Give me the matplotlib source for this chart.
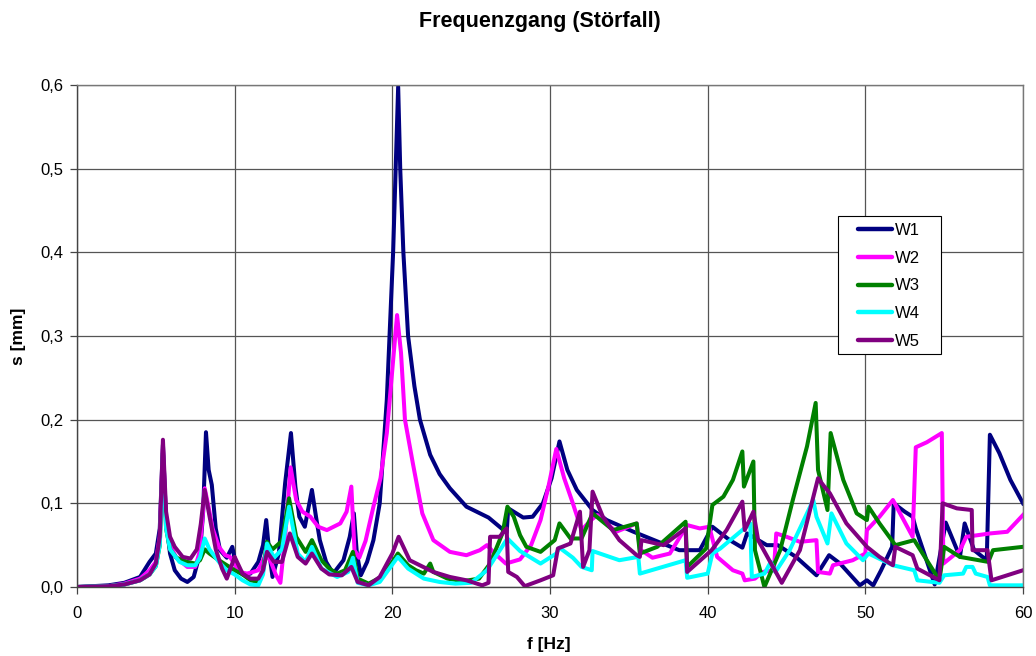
import matplotlib
matplotlib.use("Agg")
import matplotlib.pyplot as plt
from matplotlib.ticker import FuncFormatter, MultipleLocator
from matplotlib.lines import Line2D
from matplotlib.legend_handler import HandlerLine2D
from matplotlib.patches import Rectangle

plt.rcParams['font.family'] = ['Liberation Sans', 'DejaVu Sans']

# frequency [Hz] / displacement [mm]
w1_f = [0, 1, 2, 3, 4, 4.6, 5.0, 5.25, 5.45, 5.65, 5.9, 6.2, 6.6, 7.0, 7.4, 7.8, 8.0, 8.18, 8.35,
        8.55, 8.8, 9.07, 9.5, 9.85, 10.1, 10.5, 11.0, 11.5, 11.8, 12.0, 12.2, 12.4, 12.8, 13.2,
        13.57, 13.85, 14.1, 14.45, 14.9, 15.15, 15.4, 15.8, 16.25, 16.9, 17.3, 17.56, 17.75, 18.0,
        18.4, 18.8, 19.2, 19.65, 20.05, 20.37, 20.5, 20.7, 21.0, 21.4, 21.75, 22.4, 23.0, 23.65,
        24.7, 26.1, 26.8, 27.25, 27.35, 28.3, 28.9, 29.55, 30.1, 30.6, 31.1, 31.7, 32.7, 33.6,
        35.3, 37.0, 38.2, 39.5, 40.3, 41.4, 42.2, 42.5, 43.75, 44.45, 45.6, 46.9, 47.7, 48.4,
        49.65, 50.1, 50.5, 51.0, 51.7, 51.8, 52.5, 53.0, 53.2, 54.4, 55.1, 56.0, 56.3, 56.9,
        57.7, 57.9, 58.5, 59.2, 60]
w1_s = [0, 0.001, 0.002, 0.005, 0.012, 0.03, 0.04, 0.07, 0.17, 0.08, 0.04, 0.02, 0.01, 0.006,
        0.012, 0.04, 0.09, 0.185, 0.14, 0.122, 0.07, 0.044, 0.035, 0.048, 0.024, 0.015, 0.016,
        0.03, 0.05, 0.08, 0.04, 0.012, 0.04, 0.124, 0.184, 0.12, 0.084, 0.072, 0.116, 0.085,
        0.056, 0.03, 0.016, 0.032, 0.06, 0.088, 0.04, 0.014, 0.03, 0.056, 0.1, 0.224, 0.4, 0.598,
        0.5, 0.4, 0.3, 0.24, 0.2, 0.158, 0.135, 0.118, 0.096, 0.083, 0.072, 0.065, 0.094, 0.083,
        0.084, 0.1, 0.13, 0.174, 0.14, 0.116, 0.092, 0.08, 0.066, 0.053, 0.044, 0.044, 0.072,
        0.056, 0.047, 0.064, 0.05, 0.05, 0.036, 0.014, 0.038, 0.028, 0.002, 0.008, 0.002, 0.02,
        0.048, 0.1, 0.09, 0.084, 0.07, 0.003, 0.077, 0.036, 0.076, 0.044, 0.032, 0.182, 0.16,
        0.128, 0.1]

w2_f = [0, 2, 3, 4, 4.6, 5.0, 5.25, 5.45, 5.65, 5.9, 6.3, 7.0, 7.5, 7.75, 7.95, 8.1, 8.35, 8.6,
        9.0, 9.4, 9.7, 10.3, 10.8, 11.5, 12.0, 12.3, 12.6, 12.9, 13.2, 13.55, 13.9, 14.3, 14.8,
        15.3, 15.85, 16.7, 17.1, 17.4, 17.6, 17.9, 18.3, 18.8, 19.25, 19.65, 20.0, 20.3, 20.55,
        20.8, 21.3, 21.9, 22.6, 23.65, 24.7, 25.55, 26.0, 26.5, 27.2, 28.1, 28.8, 29.4, 29.9,
        30.4, 30.9, 31.45, 32.0, 32.6, 33.0, 34.2, 35.5, 35.7, 36.5, 37.6, 38.7, 39.5, 40.1,
        40.6, 41.6, 42.2, 42.35, 43.0, 43.5, 44.2, 44.35, 45.0, 45.85, 46.9, 47.0, 47.75, 47.95,
        49.2, 50.0, 50.1, 50.9, 51.75, 53.0, 53.2, 53.9, 54.85, 54.95, 56.0, 56.4, 57.9, 59.0, 60]
w2_s = [0, 0.001, 0.004, 0.01, 0.02, 0.03, 0.06, 0.165, 0.08, 0.05, 0.035, 0.024, 0.024, 0.04,
        0.08, 0.118, 0.095, 0.07, 0.048, 0.038, 0.036, 0.018, 0.016, 0.02, 0.04, 0.03, 0.015,
        0.005, 0.06, 0.143, 0.104, 0.09, 0.084, 0.072, 0.068, 0.076, 0.09, 0.12, 0.044, 0.035,
        0.055, 0.096, 0.13, 0.184, 0.26, 0.325, 0.28, 0.2, 0.148, 0.088, 0.056, 0.042, 0.038,
        0.044, 0.05, 0.04, 0.028, 0.033, 0.05, 0.08, 0.12, 0.165, 0.13, 0.1, 0.068, 0.08, 0.086,
        0.066, 0.076, 0.045, 0.035, 0.04, 0.074, 0.07, 0.072, 0.036, 0.02, 0.016, 0.008, 0.01,
        0.018, 0.02, 0.064, 0.06, 0.054, 0.056, 0.018, 0.016, 0.026, 0.032, 0.04, 0.068, 0.084,
        0.104, 0.06, 0.167, 0.173, 0.184, 0.028, 0.044, 0.06, 0.064, 0.066, 0.086]

w3_f = [0, 2, 3, 4, 4.6, 5.0, 5.25, 5.45, 5.65, 5.9, 6.3, 7.0, 7.5, 7.8, 8.1, 8.4, 9.0, 9.5,
        10.0, 10.5, 11.0, 11.5, 11.8, 12.05, 12.4, 13.0, 13.45, 13.9, 14.5, 14.9, 15.5, 16.0,
        16.5, 17.0, 17.5, 17.8, 18.5, 19.3, 20.0, 20.35, 21.0, 21.5, 22.0, 22.4, 22.6, 23.5,
        24.5, 25.5, 26.2, 27.0, 27.3, 27.7, 28.1, 28.5, 29.4, 30.3, 30.6, 31.3, 32.0, 32.7,
        34.0, 35.5, 35.7, 36.8, 38.6, 38.7, 39.9, 40.3, 41.0, 41.6, 42.2, 42.3, 42.9, 43.0,
        43.6, 44.6, 45.4, 46.3, 46.85, 47.0, 47.6, 47.8, 48.6, 49.45, 50.1, 50.2, 50.9, 51.75,
        51.9, 53.1, 54.7, 55.0, 56.0, 56.6, 57.8, 58.1, 60]
w3_s = [0, 0.001, 0.003, 0.008, 0.015, 0.025, 0.05, 0.16, 0.07, 0.045, 0.035, 0.03, 0.028,
        0.032, 0.045, 0.04, 0.032, 0.026, 0.02, 0.015, 0.008, 0.006, 0.02, 0.054, 0.045, 0.055,
        0.106, 0.06, 0.042, 0.056, 0.032, 0.022, 0.016, 0.02, 0.042, 0.01, 0.004, 0.012, 0.03,
        0.04, 0.026, 0.02, 0.016, 0.028, 0.018, 0.01, 0.007, 0.01, 0.028, 0.065, 0.096, 0.084,
        0.062, 0.048, 0.042, 0.056, 0.076, 0.058, 0.058, 0.088, 0.068, 0.076, 0.04, 0.048,
        0.078, 0.024, 0.046, 0.098, 0.108, 0.128, 0.162, 0.12, 0.15, 0.044, 0.0, 0.044, 0.104,
        0.168, 0.22, 0.14, 0.092, 0.184, 0.128, 0.088, 0.08, 0.096, 0.076, 0.054, 0.05, 0.056,
        0.008, 0.048, 0.036, 0.034, 0.03, 0.044, 0.048]

w4_f = [0, 2, 3, 4, 4.6, 5.0, 5.25, 5.45, 5.65, 5.9, 6.5, 7.0, 7.5, 7.8, 8.1, 8.4, 9.0, 9.5,
        10.0, 10.5, 11.0, 11.5, 11.8, 12.05, 12.5, 13.0, 13.45, 14.0, 14.5, 14.9, 15.5, 16.5,
        17.2, 17.5, 17.8, 18.5, 19.2, 20.35, 21.0, 22.0, 23.0, 24.0, 25.0, 26.0, 27.3, 28.1,
        29.4, 30.4, 30.6, 31.45, 32.0, 32.65, 32.7, 34.4, 35.6, 35.7, 38.6, 38.7, 40.0, 40.3,
        40.8, 42.7, 42.8, 43.6, 44.0, 44.3, 45.2, 46.7, 46.9, 47.6, 47.85, 48.8, 49.85, 50.2,
        51.75, 53.1, 53.3, 54.7, 55.0, 56.2, 56.4, 56.8, 57.0, 57.75, 57.9, 60]
w4_s = [0, 0.001, 0.003, 0.008, 0.015, 0.025, 0.05, 0.16, 0.07, 0.045, 0.03, 0.026, 0.026,
        0.035, 0.058, 0.045, 0.03, 0.02, 0.015, 0.008, 0.003, 0.002, 0.015, 0.052, 0.035, 0.045,
        0.096, 0.04, 0.03, 0.048, 0.022, 0.012, 0.018, 0.035, 0.005, 0.002, 0.006, 0.036, 0.022,
        0.01, 0.006, 0.004, 0.005, 0.02, 0.058, 0.043, 0.028, 0.04, 0.047, 0.035, 0.024, 0.02,
        0.043, 0.032, 0.036, 0.016, 0.032, 0.011, 0.016, 0.04, 0.046, 0.076, 0.012, 0.016, 0.03,
        0.018, 0.044, 0.104, 0.084, 0.052, 0.088, 0.052, 0.032, 0.04, 0.026, 0.02, 0.008, 0.005,
        0.014, 0.016, 0.024, 0.024, 0.016, 0.012, 0.002, 0.002]

w5_f = [0, 2, 3, 4, 4.6, 5.0, 5.25, 5.45, 5.65, 5.9, 6.2, 6.7, 7.2, 7.6, 7.85, 8.1, 8.4, 8.8,
        9.2, 9.5, 10.0, 10.5, 11.0, 11.5, 11.8, 12.05, 12.5, 13.0, 13.5, 14.0, 14.5, 14.9, 15.5,
        16.0, 16.8, 17.4, 17.8, 18.5, 19.2, 20.0, 20.4, 21.1, 22.6, 23.65, 24.7, 25.7, 26.1,
        26.2, 26.8, 27.25, 27.35, 27.9, 28.4, 29.4, 30.2, 30.5, 31.3, 31.9, 32.1, 32.5, 32.7,
        33.35, 34.4, 35.5, 35.7, 35.8, 37.2, 38.6, 38.7, 39.9, 40.25, 41.2, 42.2, 42.35, 42.9,
        43.2, 44.7, 45.85, 47.0, 47.4, 47.75, 48.8, 50.1, 50.9, 51.75, 51.9, 53.0, 53.3, 54.7,
        54.9, 55.8, 56.75, 56.8, 57.75, 58.0, 60]
w5_s = [0, 0.001, 0.003, 0.008, 0.015, 0.028, 0.06, 0.176, 0.09, 0.06, 0.048, 0.036, 0.034,
        0.045, 0.075, 0.116, 0.085, 0.045, 0.022, 0.01, 0.036, 0.016, 0.01, 0.01, 0.02, 0.042,
        0.03, 0.03, 0.064, 0.036, 0.028, 0.04, 0.022, 0.015, 0.014, 0.024, 0.006, 0.002, 0.012,
        0.04, 0.06, 0.032, 0.018, 0.012, 0.008, 0.002, 0.005, 0.06, 0.06, 0.07, 0.018, 0.012,
        0.001, 0.008, 0.014, 0.046, 0.052, 0.09, 0.024, 0.044, 0.114, 0.084, 0.056, 0.038,
        0.036, 0.056, 0.05, 0.07, 0.018, 0.038, 0.044, 0.068, 0.102, 0.068, 0.09, 0.056, 0.005,
        0.044, 0.13, 0.12, 0.112, 0.076, 0.048, 0.036, 0.026, 0.048, 0.038, 0.022, 0.008, 0.1,
        0.094, 0.092, 0.044, 0.044, 0.008, 0.02]

series = [("W1", w1_f, w1_s, "#000080"),
          ("W2", w2_f, w2_s, "#FF00FF"),
          ("W3", w3_f, w3_s, "#008000"),
          ("W4", w4_f, w4_s, "#00FFFF"),
          ("W5", w5_f, w5_s, "#800080")]

fig = plt.figure(figsize=(10.36, 6.56), dpi=100)
ax = fig.add_axes([77 / 1036, 1 - 587 / 656, (1023 - 77) / 1036, (587 - 85) / 656])

for name, f, s, col in series:
    ax.plot(f, s, color=col, lw=2.9, label=name, solid_joinstyle='round')

ax.set_xlim(0, 60)
ax.set_ylim(0, 0.6)
ax.xaxis.set_major_locator(MultipleLocator(10))
ax.yaxis.set_major_locator(MultipleLocator(0.1))
ax.yaxis.set_major_formatter(FuncFormatter(lambda v, p: f"{v:.1f}".replace(".", ",")))
ax.grid(True, color="#555555", lw=0.9)
ax.set_axisbelow(True)
for sp in ax.spines.values():
    sp.set_color("#777777")
    sp.set_linewidth(1.0)
ax.spines['left'].set_color("#444444")
ax.spines['bottom'].set_color("#444444")
ax.tick_params(direction='out', length=5, width=0.9, color="#444444", labelsize=12)
ax.tick_params(axis='x', pad=9)
ax.tick_params(axis='y', pad=5)

fig.text(0.521, 1 - 22 / 656, "Frequenzgang (Störfall)", ha='center', va='center',
         fontsize=15.5, fontweight='bold')
fig.text(549 / 1036, 1 - 645 / 656, "f [Hz]", ha='center', va='center', fontsize=12.5,
         fontweight='bold')
fig.text(19 / 1036, 1 - 336 / 656, "s [mm]", ha='center', va='center', rotation=90,
         fontsize=12.5, fontweight='bold')

# Excel-style legend: wide side margins, frame drawn separately
leg = ax.legend(loc='upper left', bbox_to_anchor=(838 / 1036, 1 - 216 / 656),
                bbox_transform=fig.transFigure, fontsize=12, frameon=False,
                handlelength=2.83, handletextpad=0.18, labelspacing=0.76,
                borderpad=0.42, borderaxespad=0,
                handler_map={Line2D: HandlerLine2D(xpad=0.8)})
for h in leg.get_lines():
    h.set_linewidth(3.2)
    h.set_solid_capstyle('round')
leg.set_zorder(6)
frame = Rectangle((838 / 1036, 1 - 354 / 656), 103 / 1036, 138 / 656,
                  transform=fig.transFigure, facecolor='white', edgecolor='black',
                  lw=0.8, zorder=5, clip_on=False)
ax.add_artist(frame)

fig.savefig("out.png", dpi=100)
